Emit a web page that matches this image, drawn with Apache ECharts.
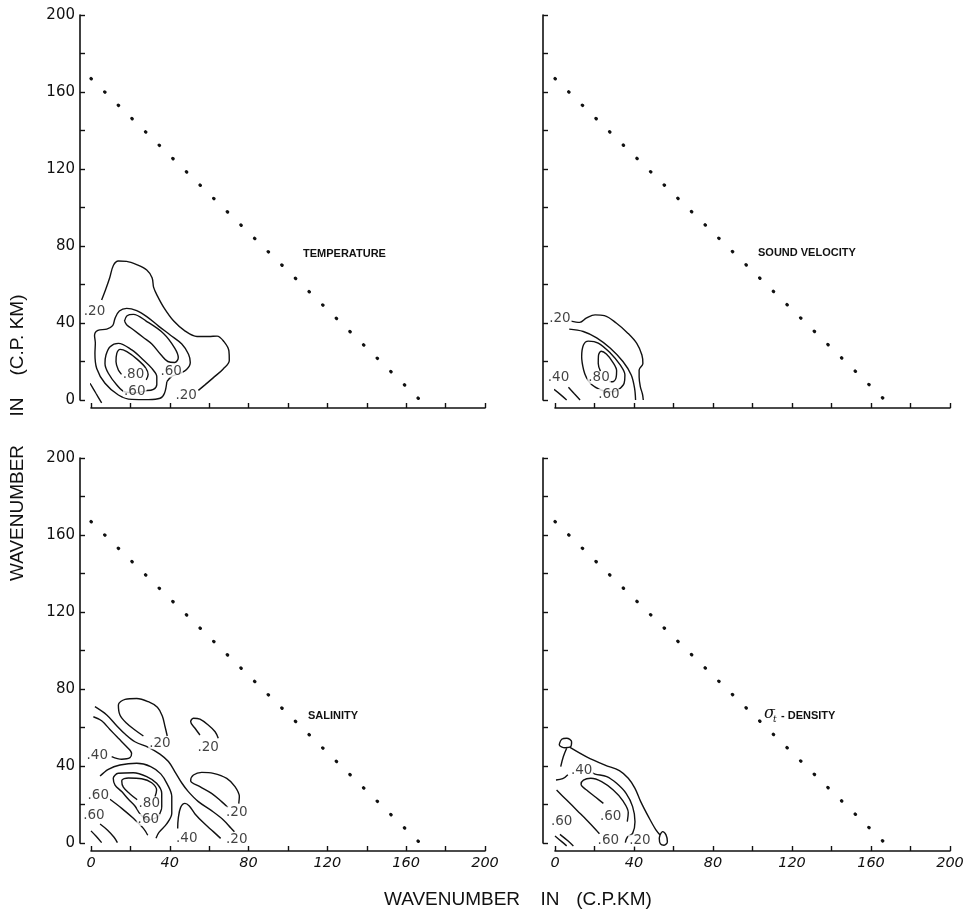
<!DOCTYPE html>
<html>
<head>
<meta charset="utf-8">
<script src="https://cdn.jsdelivr.net/npm/echarts/dist/echarts.min.js"></script>
<style>
  html, body { margin: 0; padding: 0; background: #fff; }
  #chart { width: 969px; height: 912px; }
</style>
</head>
<body>
<div id="chart"></div>
<script>
// axis ticks and labels
const tickStep = 20
const tickLabels = [0, 40, 80, 120, 160, 200]
// dotted limit line k1 + k2 = 167
const limitLine = [[0, 167], [167, 0]]

// TEMPERATURE contours
const tempC20 = [[5.4,52],[7.3,57],[9.5,63.5],[11.4,70],[13.9,72.2],[18.1,72],[23.2,70.3],[28.3,67.5],[31,63.5],[31.8,58.5],[33.5,54.5],[37,48],[42,41],[47.8,35.8],[53.8,33],[59.7,33],[64,33.2],[67.5,30.3],[70,25.5],[70.2,20.5],[67,16],[62,11.5],[58,8],[54.5,5]]
const tempC40 = [[38.5,9.5],[41,12.3],[45,13.8],[48.5,15.8],[50.4,19.5],[49.5,23.8],[46.1,29.1],[40.2,33.8],[34.3,38.4],[28.3,43.3],[23.2,46.4],[18.1,47.6],[14.4,46.2],[12.2,42.4],[11,38.6],[8,36.8],[3.5,36.2],[1.8,33.5],[2.2,29.5],[2,24.2],[2.9,16.4],[7.1,8.7],[13.9,2.6],[20.7,0.3],[29.2,0.2],[35.1,0.9],[37.3,3.5],[38.5,9.5]]
const tempC60a = [[17,41],[18.3,43.8],[21.5,44.5],[28,41],[36.8,34.6],[42.5,27],[44.3,22],[42.5,19.5],[39,20],[35.5,23.5],[31,29],[26.6,32.5],[21.5,36.5],[18.2,39],[17,41]]
const tempC60b = [[28.3,4.9],[31.7,5.5],[33.4,8.1],[33.4,12.1],[30.9,16.4],[26.6,20.8],[20.7,26],[13.9,29.4],[9.7,27.7],[7.6,23.4],[7.1,19],[8.8,13.9],[13.1,7.8],[17,4.3],[22.4,3.8],[28.3,4.9]]
const tempC80 = [[28,10.5],[29,13.2],[27.8,16.6],[23.5,21.1],[18.2,25.1],[14.8,26.3],[13.1,24.2],[12.7,19.9],[13.9,15.6],[15.5,13.3]]
const tempEdge = [[-0.5,8.7],[2.5,3.5],[5.4,-1.5]]
const tempLabels = [[1.8,46,'.20'],[21.6,13.5,'.80'],[40.7,14.8,'.60'],[22.2,4.6,'.60'],[48.3,2.5,'.20']]

// SOUND VELOCITY contours
const svC20 = [[8,41],[12.5,40.3],[16,42.6],[20.3,44.2],[25,43.8],[31,40],[37,34.6],[41.4,29.4],[44,23.4],[44.5,19],[42.6,15.6],[42.6,12],[43.2,7],[44.3,3],[44.7,0]]
const svC40 = [[7.2,36.8],[14.3,35.6],[21.1,32.3],[27.9,27],[34.4,20],[38.6,13],[40.3,6],[40.8,0]]
const svC60 = [[32.3,5.5],[35,8.7],[35.4,13],[33,18.2],[28,24.4],[21.9,29.6],[16.9,30.6],[14.4,28.6],[13.5,22.5],[14.5,15.6],[16,11.5],[18.5,8],[22.5,5.5],[26,4.5],[29.5,4.3],[32.3,5.5]]
const svC80 = [[23,15],[21.9,19],[22,23],[23.4,25.3],[26,23.9],[29.3,19.6],[31.2,15.2],[30.9,11.5],[29,9.5],[27.5,9.6]]
const svEdgeA = [[-0.5,5.5],[2.8,2.8],[5.9,0]]
const svEdgeB = [[6.8,6.6],[9.8,3.2],[12.7,0]]
const svLabels = [[2.5,42.4,'.20'],[1.8,11.5,'.40'],[22.3,11.5,'.80'],[27.3,2.6,'.60']]

// SALINITY contours
const salLobe = [[26.6,55.6],[22.3,58.7],[18.1,62.2],[14.7,66.5],[13.9,71.7],[17.3,74.6],[23.2,75.1],[29.1,73.4],[33.7,70.5],[36.2,66],[37.6,60.4],[38.7,55.6]]
const salSmall = [[55.3,56.1],[52.8,59.6],[50.6,63],[52,64.8],[55.3,64.3],[59.5,61.3],[63,57.8],[64.6,54.4]]
const salRight = [[69.5,18.5],[66.3,21.5],[61.2,25.8],[55.3,29.3],[50.6,32.4],[52,35.3],[56.2,36.7],[62.1,36.2],[68.9,33.6],[73.1,29.3],[75.3,24.1],[75,20.5]]
const salDiag = [[2,70.8],[8,66.5],[12.7,61.3],[17.3,56.6],[22.3,52.6],[29.1,49.7],[35,46.2],[39.3,42.3],[42.6,37],[46,31.3],[49.4,26.7],[54.5,21.5],[61.2,16.8],[67.2,12],[71,7.8],[72.8,5.8]]
const salC40a = [[1.2,65.6],[5.4,63.5],[9.6,59],[13.9,54.4],[18.1,50],[20.6,46.6],[19.8,44.3],[15.6,43.5],[10.5,44.9]]
const salC40b = [[4.6,34.8],[8.8,38.3],[14.7,40.5],[23.2,41.4],[30.3,39.7],[35.4,35.9],[38.7,30.6],[41,24.1],[41,15.4],[38.4,9.9],[34.5,5.5],[33,2.5]]
const salC60 = [[34.2,13.7],[35.9,18.9],[35.9,25.8],[33.3,31],[28.3,34.5],[21.5,36.5],[13.9,36.2],[11.3,33.6],[12.2,30.1],[15.6,26.7],[19,22.7],[22.3,19.2],[25,15],[29.1,12],[34.2,13.7]]
const salC80 = [[32.5,24.1],[33.3,27.5],[30.8,31.3],[25.7,33.4],[19,33.8],[15.6,32.4],[16.4,29],[19.8,25.5],[23.5,22.5]]
const salC60line = [[9.6,22.7],[15.6,18],[21.5,12.8],[26.6,7.6],[28.8,4]]
const salEdgeA = [[4.6,9.9],[8.3,6.8],[11.7,3],[13.4,0.2]]
const salEdgeB = [[0,6.3],[2.5,3.6],[5.4,0.2]]
const salArch = [[44,7.5],[44.3,12.8],[45.5,18.5],[47.7,20.6],[49.9,19.2],[52.8,15.1],[57.4,10.2],[62.1,5.9],[65.8,2.4]]
const salLabels = [[3.2,45.7,'.40'],[35,51.8,'.20'],[59.5,49.7,'.20'],[3.7,24.6,'.60'],[29.6,20.6,'.80'],[1.5,14.2,'.60'],[29.1,12,'.60'],[74,15.8,'.20'],[48.6,2.4,'.40'],[74,1.6,'.20']]

// SIGMA-T DENSITY contours
const denLoopTop = [[2.2,51.4],[3.4,53.9],[5.9,54.4],[8.4,52.6],[7.9,50],[5.1,49.5],[2.2,50.9],[2.2,51.4]]
const denOuter = [[7.6,49.7],[16,44.8],[25.3,40.5],[32.6,37.6],[37.1,33.6],[40.5,28.4],[43.4,21.5],[47.3,13.7],[51.1,6.8],[53.2,4.2]]
const denLoopBR = [[53.2,4.2],[54.5,5.9],[56.2,4.2],[56.9,0.7],[55.2,-1.2],[53.4,-0.5],[52.8,2.4],[53.2,4.2]]
const denDown = [[5.9,49.2],[4.2,44.8],[2.9,39.7]]
const denC40a = [[0.5,32.7],[3.9,33.4],[6.5,35.5]]
const denC40b = [[19,36.5],[20.3,35.8],[26.2,34.5],[31.2,31],[36,25.8],[39.3,18.9],[40.5,11.1],[39.3,5],[36.6,3],[35.6,0.2]]
const denC60loop = [[24.5,20.6],[20.8,23.6],[16,27.5],[13.2,30.5],[14.4,32.7],[18.1,33.6],[23.6,31.9],[29.5,27.5],[34.3,22],[37.1,15.8],[36.6,11.1]]
const denC60line = [[0.8,27.5],[5.9,22.3],[11.3,16.8],[16.4,11.6],[20.8,6.8],[22.5,4.8]]
const denEdgeA = [[0,3.6],[3.4,0.7],[5.9,-1.5]]
const denEdgeB = [[2.5,4.5],[6.8,0.9],[9.3,-1.5]]
const denLabels = [[13.5,37.9,'.40'],[28.2,13.7,'.60'],[3.4,11.1,'.60'],[27,1.2,'.60'],[43,1.2,'.20']]

const panels = [
  { contours: [tempC20, tempC40, tempC60a, tempC60b, tempC80, tempEdge], labels: tempLabels },
  { contours: [svC20, svC40, svC60, svC80, svEdgeA, svEdgeB], labels: svLabels },
  { contours: [salLobe, salSmall, salRight, salDiag, salC40a, salC40b, salC60, salC80, salC60line, salEdgeA, salEdgeB, salArch], labels: salLabels },
  { contours: [denLoopTop, denOuter, denLoopBR, denDown, denC40a, denC40b, denC60loop, denC60line, denEdgeA, denEdgeB], labels: denLabels }
]

const ink = '#111'
const grids = [
  { left: 91, top: 15, width: 394, height: 385 },
  { left: 555, top: 15, width: 395, height: 385 },
  { left: 91, top: 458, width: 394, height: 385 },
  { left: 555, top: 458, width: 395, height: 385 }
]

const xAxes = grids.map((g, i) => ({
  gridIndex: i, type: 'value', min: 0, max: 200, interval: tickStep,
  offset: 8,
  axisLine: { show: true, onZero: false, lineStyle: { color: ink, width: 1.6 } },
  axisTick: { show: true, inside: true, length: 5, lineStyle: { color: ink, width: 1.4 } },
  splitLine: { show: false },
  axisLabel: {
    show: i >= 2, margin: 5, color: ink, fontSize: 14.5, fontStyle: 'italic',
    fontFamily: 'DejaVu Sans',
    formatter: v => tickLabels.includes(v) ? String(v) : ''
  }
}))

const yAxes = grids.map((g, i) => ({
  gridIndex: i, type: 'value', min: 0, max: 200, interval: tickStep,
  offset: i % 2 === 0 ? 11 : 12,
  axisLine: { show: true, onZero: false, lineStyle: { color: ink, width: 1.6 } },
  axisTick: { show: true, inside: true, length: 5, lineStyle: { color: ink, width: 1.4 } },
  splitLine: { show: false },
  axisLabel: {
    show: i % 2 === 0, margin: 5, color: ink, fontSize: 15,
    fontFamily: 'DejaVu Sans',
    formatter: v => tickLabels.includes(v) ? String(v) : ''
  }
}))

const series = []
panels.forEach((p, i) => {
  series.push({
    type: 'line', xAxisIndex: i, yAxisIndex: i, data: limitLine,
    symbol: 'none', silent: true, clip: false,
    lineStyle: { color: ink, width: 3.2, type: [0.5, 18.55], cap: 'round' }
  })
  p.contours.forEach(c => {
    series.push({
      type: 'line', xAxisIndex: i, yAxisIndex: i, data: c,
      symbol: 'none', smooth: 0.35, silent: true, clip: false,
      lineStyle: { color: ink, width: 1.4 }
    })
  })
  series.push({
    type: 'scatter', xAxisIndex: i, yAxisIndex: i, z: 5, clip: false, silent: true,
    symbolSize: 1, itemStyle: { color: 'rgba(0,0,0,0)' },
    data: p.labels.map(l => ({ value: [l[0], l[1]], name: l[2] })),
    label: {
      show: true, position: 'inside', formatter: '{b}',
      color: ink, fontSize: 13.5, fontFamily: 'DejaVu Sans',
      lineHeight: 12, backgroundColor: '#fff', padding: [0, 1]
    }
  })
})

function txt (x, y, text, font, extra) {
  return Object.assign({
    type: 'text', x: x, y: y, silent: true,
    style: { text: text, font: font, fill: ink, align: 'center', verticalAlign: 'middle' }
  }, extra || {})
}

const titleFont = '19px "Liberation Sans"'
const tagFont = 'bold 11px "Liberation Sans"'
const graphic = [
  txt(18, 513, 'WAVENUMBER', titleFont, { rotation: Math.PI / 2 }),
  txt(18, 407, 'IN', titleFont, { rotation: Math.PI / 2 }),
  txt(18, 335, '(C.P. KM)', titleFont, { rotation: Math.PI / 2 }),
  txt(452, 900, 'WAVENUMBER', titleFont),
  txt(550, 900, 'IN', titleFont),
  txt(614, 900, '(C.P.KM)', titleFont),
  { type: 'text', x: 303, y: 254, silent: true, style: { text: 'TEMPERATURE', font: tagFont, fill: ink, verticalAlign: 'middle' } },
  { type: 'text', x: 758, y: 253, silent: true, style: { text: 'SOUND VELOCITY', font: tagFont, fill: ink, verticalAlign: 'middle' } },
  { type: 'text', x: 308, y: 716, silent: true, style: { text: 'SALINITY', font: tagFont, fill: ink, verticalAlign: 'middle' } },
  { type: 'text', x: 764, y: 714, silent: true, style: { text: 'σ', font: 'italic 16px "DejaVu Serif"', fill: ink, verticalAlign: 'middle' } },
  { type: 'text', x: 773, y: 720, silent: true, style: { text: 't', font: 'italic 9px "DejaVu Serif"', fill: ink, verticalAlign: 'middle' } },
  { type: 'text', x: 781, y: 716, silent: true, style: { text: '- DENSITY', font: tagFont, fill: ink, verticalAlign: 'middle' } }
]

const chart = echarts.init(document.getElementById('chart'))
chart.setOption({
  backgroundColor: '#fff',
  animation: false,
  grid: grids,
  xAxis: xAxes,
  yAxis: yAxes,
  series: series,
  graphic: graphic
})
</script>
</body>
</html>
